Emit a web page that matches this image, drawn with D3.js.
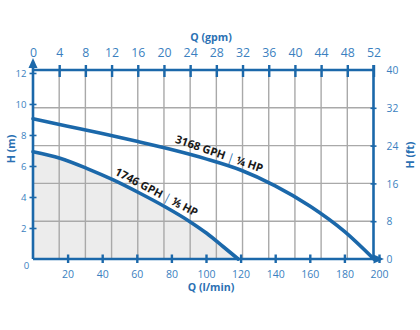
<!DOCTYPE html>
<html><head><meta charset="utf-8">
<script src="https://cdn.jsdelivr.net/npm/d3@7"></script>
<style>
html,body{margin:0;padding:0;background:#fff;}
svg{display:block;font-family:"Open Sans",sans-serif;}
</style></head>
<body><svg id="c" width="420" height="330"></svg>
<script>
// ---- data ----
const gpmTicks = [0,4,8,12,16,20,24,28,32,36,40,44,48,52];          // top axis (gpm)
const lpmTicks = [20,40,60,80,100,120,140,160,180,200];              // bottom axis (l/min)
const mTicks = [0,2,4,6,8,10,12];                                    // left axis (m)
const ftTicks = [0,8,16,24,32,40];                                   // right axis (ft)
const pumpA_Q = [0,20,40,60,80,100,120,140,160,180,197];             // l/min
const pumpA_H = [9.05,8.57,8.09,7.59,7.06,6.46,5.74,4.72,3.42,1.78,0]; // m
const pumpB_Q = [0,15.6,31,46.4,61.8,76.3,90.7,100.4,110,118.6];
const pumpB_H = [6.92,6.5,5.85,5.1,4.24,3.37,2.41,1.66,0.79,0];
const labelA = ["3168 GPH", "|", " ¼ HP"];
const labelB = ["1746 GPH", "|", " ⅕ HP"];
const labelAQ = 106, labelBQ = 69;   // l/min where labels sit

const LPM_PER_GPM = 3.785, FT_PER_M = 3.28084;
const blue = "#1b68aa", tickBlue = "#3b7fc0", grid = "#a9a9a9";

const svg = d3.select("#c");
const L = 33, R = 373.5, T = 70, B = 259;
const xG = d3.scaleLinear().domain([0,52]).range([L,R]);
const xL = d3.scaleLinear().domain([0,52*LPM_PER_GPM]).range([L,R]);
const yF = d3.scaleLinear().domain([0,40]).range([B,T]);
const yM = d3.scaleLinear().domain([0,40/FT_PER_M]).range([B,T]);

// shaded area under pump B
const ptsB = pumpB_Q.map((q,i)=>[q,pumpB_H[i]]);
const ptsA = pumpA_Q.map((q,i)=>[q,pumpA_H[i]]);
svg.append("path").datum(ptsB)
  .attr("d", d3.area().x(d=>xL(d[0])).y0(B).y1(d=>yM(d[1])).curve(d3.curveMonotoneX))
  .attr("fill","#ececec");

// grid
svg.append("g").selectAll("line").data(gpmTicks.filter(v=>v>0&&v<52)).join("line")
  .attr("x1",d=>xG(d)).attr("x2",d=>xG(d)).attr("y1",T).attr("y2",B)
  .attr("stroke",grid).attr("stroke-width",1.4);
svg.append("g").selectAll("line").data(ftTicks.filter(v=>v>0&&v<40)).join("line")
  .attr("x1",L).attr("x2",R).attr("y1",d=>yF(d)).attr("y2",d=>yF(d))
  .attr("stroke",grid).attr("stroke-width",1.4);

// curves
const line = d3.line().x(d=>xL(d[0])).y(d=>yM(d[1])).curve(d3.curveMonotoneX);
[ptsA, ptsB].forEach(p=>svg.append("path").datum(p).attr("d",line)
  .attr("fill","none").attr("stroke",blue).attr("stroke-width",3.6).attr("stroke-linecap","round"));

// axes
const axW = 2.6;
// top
const gTop = svg.append("g").attr("transform",`translate(0,${T})`)
  .call(d3.axisTop(xG).tickValues(gpmTicks).tickSize(0).tickPadding(0));
gTop.select(".domain").remove();
gTop.selectAll(".tick line").attr("y1",-5).attr("y2",7).attr("stroke",blue).attr("stroke-width",2.4)
  .attr("display",d=>d===0?"none":null);
gTop.selectAll(".tick text").attr("y",-12.7).attr("dy",0).attr("fill",tickBlue)
  .attr("font-size",12.3).attr("font-family","Open Sans");
svg.append("line").attr("x1",L).attr("x2",R).attr("y1",T).attr("y2",T).attr("stroke",blue).attr("stroke-width",axW);

// bottom
const gBot = svg.append("g").attr("transform",`translate(0,${B})`)
  .call(d3.axisBottom(xL).tickValues(lpmTicks).tickSize(0).tickPadding(0));
gBot.select(".domain").remove();
gBot.selectAll(".tick line").attr("y1",-4.5).attr("y2",4).attr("stroke",blue).attr("stroke-width",2.4);
gBot.selectAll(".tick text").attr("y",18.5).attr("dy",0).attr("fill",tickBlue)
  .attr("font-size",10.5).attr("font-family","Open Sans");
svg.append("line").attr("x1",L).attr("x2",376).attr("y1",B).attr("y2",B).attr("stroke",blue).attr("stroke-width",axW);
svg.append("path").attr("d",`M${R},${B-4.5}L${R+10.5},${B}L${R},${B+4.5}Z`).attr("fill",blue);

// left
const gLeft = svg.append("g").attr("transform",`translate(${L},0)`)
  .call(d3.axisLeft(yM).tickValues(mTicks).tickSize(0).tickPadding(0));
gLeft.select(".domain").remove();
gLeft.selectAll(".tick line").attr("x1",-3.5).attr("x2",3.5).attr("stroke",blue).attr("stroke-width",1.6)
  .attr("display",d=>d===0?"none":null);
gLeft.selectAll(".tick text").attr("x",d=>d===0?-3.7:-6.5).attr("y",d=>d===0?6:0).attr("dy","0.35em")
  .attr("fill",tickBlue).attr("font-size",9.6).attr("font-family","Open Sans");
svg.append("line").attr("x1",L).attr("x2",L).attr("y1",B).attr("y2",T-4).attr("stroke",blue).attr("stroke-width",axW);
svg.append("path").attr("d",`M${L-4.5},${T-2}L${L},${T-12}L${L+4.5},${T-2}Z`).attr("fill",blue);

// right
const gRight = svg.append("g").attr("transform",`translate(${R},0)`)
  .call(d3.axisRight(yF).tickValues(ftTicks).tickSize(0).tickPadding(0));
gRight.select(".domain").remove();
gRight.selectAll(".tick line").attr("x1",-3).attr("x2",3).attr("stroke",blue).attr("stroke-width",1.6)
  .attr("display",d=>(d===0||d===40)?"none":null);
gRight.selectAll(".tick text").attr("x",13).attr("dy","0.35em")
  .attr("fill",tickBlue).attr("font-size",10.3).attr("font-family","Open Sans");
svg.append("line").attr("x1",R).attr("x2",R).attr("y1",T-5).attr("y2",B).attr("stroke",blue).attr("stroke-width",axW);

// titles
const titleStyle = s=>s.attr("fill","#2a70b3").attr("font-weight","bold").attr("font-size",10.6).attr("text-anchor","middle");
svg.append("text").text("Q (gpm)").attr("x",211).attr("y",40.7).call(titleStyle);
svg.append("text").text("Q (l/min)").attr("x",211).attr("y",291).call(titleStyle);
svg.append("text").text("H (m)").attr("transform","translate(14.5,149) rotate(-90)").call(titleStyle);
svg.append("text").text("H (ft)").attr("transform","translate(413.5,155) rotate(-90)").call(titleStyle);

// curve labels
function yAt(q, Q, H){ return d3.scaleLinear().domain(Q).range(H).clamp(true)(q); }
function placeLabel(parts, q, Q, H, angle, off){
  const px = xL(q), py = yM(yAt(q,Q,H));
  const t = svg.append("text")
    .attr("transform",`translate(${px},${py}) rotate(${angle}) translate(0,${-off})`)
    .attr("text-anchor","middle").attr("font-weight","bold").attr("font-size",11.2).attr("fill","#1a1a1a");
  t.append("tspan").text(parts[0]+" ");
  t.append("tspan").text(parts[1]).attr("fill",blue).attr("font-weight","normal");
  t.append("tspan").text(parts[2]);
}
placeLabel(labelA, labelAQ, pumpA_Q, pumpA_H, 19, 5);
placeLabel(labelB, labelBQ, pumpB_Q, pumpB_H, 27.5, 5);
</script></body></html>
